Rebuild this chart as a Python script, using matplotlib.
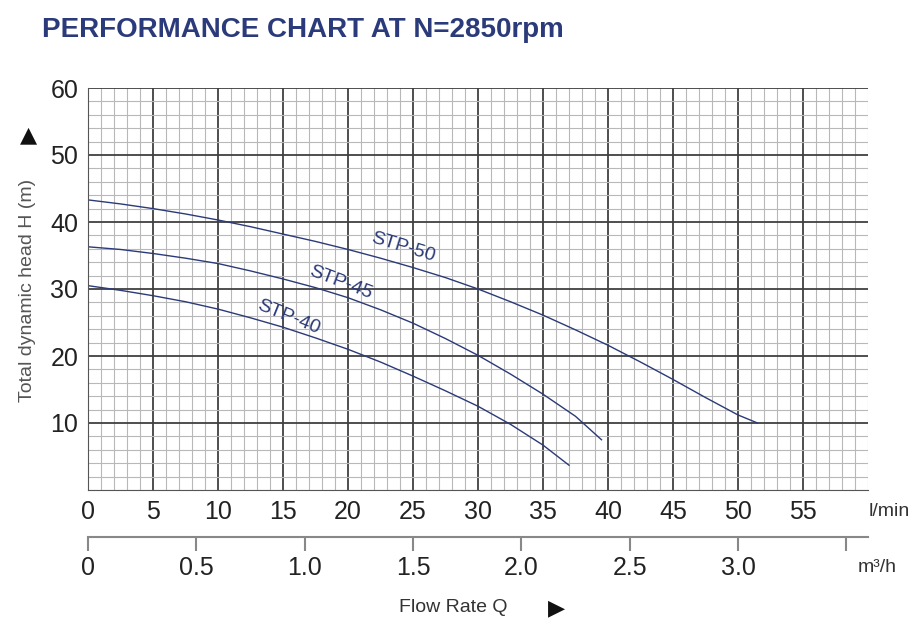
import numpy as np
import matplotlib.pyplot as plt

# head curves (l/min, m)
q50 = [0, 2.5, 5, 7.5, 10, 12.5, 15, 17.5, 20, 22.5, 25, 27.5, 30, 32.5, 35, 37.5, 40, 42.5, 45, 47.5, 50, 51.5]
h50 = [43.3, 42.7, 42.0, 41.2, 40.3, 39.3, 38.2, 37.1, 35.9, 34.6, 33.2, 31.7, 30.0, 28.1, 26.1, 23.9, 21.6, 19.1, 16.5, 13.8, 11.2, 10.0]
q45 = [0, 2.5, 5, 7.5, 10, 12.5, 15, 17.5, 20, 22.5, 25, 27.5, 30, 32.5, 35, 37.5, 39.5]
h45 = [36.3, 35.9, 35.3, 34.6, 33.8, 32.7, 31.5, 30.2, 28.7, 26.9, 24.9, 22.6, 20.1, 17.3, 14.3, 11.0, 7.5]
q40 = [0, 2.5, 5, 7.5, 10, 12.5, 15, 17.5, 20, 22.5, 25, 27.5, 30, 32.5, 35, 37]
h40 = [30.5, 29.8, 29.0, 28.1, 27.0, 25.7, 24.3, 22.7, 21.0, 19.1, 17.0, 14.8, 12.5, 9.8, 6.7, 3.7]
labels = ['STP-50', 'STP-45', 'STP-40']
lpm_ticks = [0, 5, 10, 15, 20, 25, 30, 35, 40, 45, 50, 55]
m3h_ticks = [0, 0.5, 1.0, 1.5, 2.0, 2.5, 3.0, 3.5]
m3h_labels = ['0', '0.5', '1.0', '1.5', '2.0', '2.5', '3.0', '']

plt.rcParams['font.family'] = ['Liberation Sans', 'DejaVu Sans']
navy = '#2b3a78'
fig = plt.figure(figsize=(9.24, 6.29), dpi=100)
ax = fig.add_axes([88/924, 1-490/629, 780/924, 402/629])
ax.set_xlim(0, 60)
ax.set_ylim(0, 60)
ax.set_xticks(np.arange(0, 61, 1), minor=True)
ax.set_yticks(np.arange(0, 61, 2), minor=True)
ax.set_xticks(lpm_ticks)
ax.set_yticks([10, 20, 30, 40, 50, 60])
ax.grid(which='minor', color='#b8b8b8', lw=0.8)
ax.grid(which='major', color='#404040', lw=1.3)
ax.set_axisbelow(True)
for s in ax.spines.values():
    s.set_color('#555555')
ax.spines['top'].set_visible(False)
ax.spines['right'].set_visible(False)
ax.tick_params(which='both', length=0)
ax.tick_params(labelsize=18, colors='#222222', pad=7)
ax.set_xticklabels([str(t) for t in lpm_ticks])
ax.text(61.6, -3.2, 'l/min', fontsize=14, color='#333333', ha='center', va='center')

for q, h in [(q50, h50), (q45, h45), (q40, h40)]:
    ax.plot(q, h, color=navy, lw=1.0)
ax.text(24.2, 36.2, labels[0], color=navy, fontsize=14, rotation=-17, ha='center', va='center')
ax.text(19.4, 30.9, labels[1], color=navy, fontsize=14, rotation=-21, ha='center', va='center')
ax.text(15.4, 25.8, labels[2], color=navy, fontsize=14, rotation=-22, ha='center', va='center')

# second flow axis in m3/h
ax2 = fig.add_axes([88/924, 1-537/629, 780/924, 0.001])
ax2.set_xlim(0, 3.6)
ax2.set_yticks([])
for k in ['top', 'left', 'right']:
    ax2.spines[k].set_visible(False)
ax2.spines['bottom'].set_color('#888888')
ax2.spines['bottom'].set_linewidth(1.5)
ax2.set_xticks(m3h_ticks)
ax2.set_xticklabels(m3h_labels)
ax2.tick_params(length=10, width=1.5, color='#888888', labelsize=18, labelcolor='#222222', pad=4)
ax2.set_facecolor('none')
fig.text(877/924, 1-567/629, 'm³/h', fontsize=14, color='#333333', ha='center', va='center')

fig.text(42/924, 1-30/629, 'PERFORMANCE CHART AT N=2850rpm', fontsize=20, fontweight='bold',
         color='#2b3a7a', va='center')
fig.text(28/924, 1-290/629, 'Total dynamic head H (m)', fontsize=14, color='#555555',
         rotation=90, ha='center', va='center')
fig.text(28/924, 1-135/629, '▲', fontsize=16, family='DejaVu Sans', color='#111111', ha='center', va='center')
fig.text(453/924, 1-608/629, 'Flow Rate Q', fontsize=14, color='#333333', ha='center', va='center')
fig.text(556/924, 1-608/629, '▶', fontsize=16, family='DejaVu Sans', color='#111111', ha='center', va='center')

fig.savefig('out.png', dpi=100)
